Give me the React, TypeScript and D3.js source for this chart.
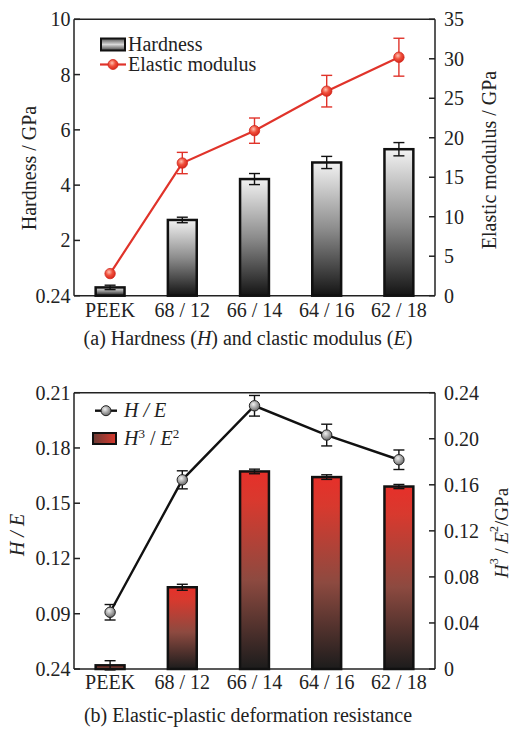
import React from "react";
import * as d3 from "d3";

const categories = ["PEEK", "68 / 12", "66 / 14", "64 / 16", "62 / 18"];
const hardness = [0.3, 2.74, 4.22, 4.82, 5.3];
const hardnessErr = [0.08, 0.1, 0.2, 0.22, 0.24];
const modulus = [2.8, 16.8, 20.9, 25.9, 30.2];
const modulusErr = [0, 1.35, 1.6, 2.0, 2.4];
const hOverE = [0.0908, 0.1627, 0.2029, 0.187, 0.1736];
const hOverEErr = [0.0042, 0.0049, 0.0056, 0.0059, 0.0053];
const h3e2 = [0.0032, 0.071, 0.1716, 0.1667, 0.1585];
const h3e2Err = [0.004, 0.0026, 0.002, 0.002, 0.0018];

const topLeftTicks = [0, 2, 4, 6, 8, 10];
const topLeftLabels = ["0.24", "2", "4", "6", "8", "10"];
const topRightTicks = [0, 5, 10, 15, 20, 25, 30, 35];
const botLeftTicks = [0.06, 0.09, 0.12, 0.15, 0.18, 0.21];
const botLeftLabels = ["0.24", "0.09", "0.12", "0.15", "0.18", "0.21"];
const botRightTicks = [0, 0.04, 0.08, 0.12, 0.16, 0.2, 0.24];
const botRightLabels = ["0", "0.04", "0.08", "0.12", "0.16", "0.20", "0.24"];

const FONT = "'Liberation Serif', 'Times New Roman', serif";
const FS = 20;
const L = 74, R = 435;

function Panel({ y0, y1, leftScale, rightScale, leftTicks, leftLabels, rightTicks, rightLabels, children }: any) {
  const tick = 6;
  return (
    <g>
      <line x1={L} x2={R} y1={y0} y2={y0} stroke="#222" strokeWidth={1.5} />
      <line x1={L} x2={R} y1={y1} y2={y1} stroke="#222" strokeWidth={1.5} />
      <line x1={L} x2={L} y1={y0} y2={y1} stroke="#222" strokeWidth={1.5} />
      <line x1={R} x2={R} y1={y0} y2={y1} stroke="#222" strokeWidth={1.5} />
      {leftTicks.map((t: number, i: number) => (
        <g key={"l" + i}>
          <line x1={L} x2={L + tick} y1={leftScale(t)} y2={leftScale(t)} stroke="#222" strokeWidth={1.5} />
          <text x={70.5} y={leftScale(t)} dy="0.35em" textAnchor="end" fontSize={FS} fontFamily={FONT} fill="#222">{leftLabels[i]}</text>
        </g>
      ))}
      {rightTicks.map((t: number, i: number) => (
        <g key={"r" + i}>
          <line x1={R} x2={R - tick} y1={rightScale(t)} y2={rightScale(t)} stroke="#222" strokeWidth={1.5} />
          <text x={444} y={rightScale(t)} dy="0.35em" textAnchor="start" fontSize={FS} fontFamily={FONT} fill="#222">{rightLabels[i]}</text>
        </g>
      ))}
      {children}
    </g>
  );
}

export default function App() {
  const x = d3.scaleBand().domain(categories).range([L, R]).paddingInner(0.6).paddingOuter(0.3);
  const bw = x.bandwidth();
  const cx = (c: string) => (x(c) as number) + bw / 2;

  const tY0 = 19.3, tY1 = 295.7;
  const yH = d3.scaleLinear().domain([0, 10]).range([tY1, tY0]);
  const yE = d3.scaleLinear().domain([0, 35]).range([tY1, tY0]);
  const bY0 = 392.7, bY1 = 669;
  const yHE = d3.scaleLinear().domain([0.06, 0.21]).range([bY1, bY0]);
  const yH3 = d3.scaleLinear().domain([0, 0.24]).range([bY1, bY0]);

  const line = d3.line<[number, number]>().x((d) => d[0]).y((d) => d[1]);
  const modPts: [number, number][] = categories.map((c, i) => [cx(c), yE(modulus[i])]);
  const hePts: [number, number][] = categories.map((c, i) => [cx(c), yHE(hOverE[i])]);

  const cap = 5.5;
  const errBar = (xc: number, yTop: number, yBot: number, color: string, key: string, w = 1.4) => (
    <g key={key} stroke={color} strokeWidth={w} fill="none">
      <line x1={xc} x2={xc} y1={yTop} y2={yBot} />
      <line x1={xc - cap} x2={xc + cap} y1={yTop} y2={yTop} />
      <line x1={xc - cap} x2={xc + cap} y1={yBot} y2={yBot} />
    </g>
  );

  return (
    <div style={{ position: "absolute", left: 0, top: 0, width: 514, height: 729, background: "#fff" }}>
      <svg width={514} height={729} style={{ display: "block" }} fontFamily={FONT}>
        <defs>
          <linearGradient id="grayGrad" x1="0" y1="0" x2="0" y2="1">
            <stop offset="0" stopColor="#f2f2f2" />
            <stop offset="0.5" stopColor="#8c8c8c" />
            <stop offset="1" stopColor="#141414" />
          </linearGradient>
          <linearGradient id="grayLeg" x1="0" y1="0" x2="0" y2="1">
            <stop offset="0" stopColor="#555" />
            <stop offset="0.5" stopColor="#d8d8d8" />
            <stop offset="1" stopColor="#444" />
          </linearGradient>
          <linearGradient id="redGrad" x1="0" y1="0" x2="0" y2="1">
            <stop offset="0" stopColor="#e6302a" />
            <stop offset="0.15" stopColor="#d8392e" />
            <stop offset="0.55" stopColor="#8d4a40" />
            <stop offset="1" stopColor="#1c1c1c" />
          </linearGradient>
          <linearGradient id="redLeg" x1="0" y1="0" x2="1" y2="0">
            <stop offset="0" stopColor="#6a3a34" />
            <stop offset="1" stopColor="#d8392e" />
          </linearGradient>
          <radialGradient id="redDot" cx="0.4" cy="0.35" r="0.65">
            <stop offset="0" stopColor="#ffc0b0" />
            <stop offset="0.5" stopColor="#f0503c" />
            <stop offset="1" stopColor="#d8281c" />
          </radialGradient>
          <radialGradient id="grayDot" cx="0.4" cy="0.35" r="0.65">
            <stop offset="0" stopColor="#f0f0f0" />
            <stop offset="0.6" stopColor="#a0a0a0" />
            <stop offset="1" stopColor="#6a6a6a" />
          </radialGradient>
        </defs>

        <Panel y0={tY0} y1={tY1} leftScale={yH} rightScale={yE} leftTicks={topLeftTicks} leftLabels={topLeftLabels}
          rightTicks={topRightTicks} rightLabels={topRightTicks.map(String)}>
          {categories.map((c, i) => (
            <rect key={"hb" + i} x={x(c)} y={yH(hardness[i])} width={bw} height={tY1 - yH(hardness[i])}
              fill="url(#grayGrad)" stroke="#111" strokeWidth={2.5} />
          ))}
          {categories.map((c, i) => errBar(cx(c), yH(hardness[i] + hardnessErr[i]), yH(hardness[i] - hardnessErr[i]), "#111", "he" + i))}
          <path d={line(modPts) as string} fill="none" stroke="#e0332a" strokeWidth={2.2} />
          {categories.map((c, i) => modulusErr[i] > 0 ? errBar(cx(c), yE(modulus[i] + modulusErr[i]), yE(modulus[i] - modulusErr[i]), "#e0332a", "me" + i) : null)}
          {modPts.map((p, i) => (
            <circle key={"md" + i} cx={p[0]} cy={p[1]} r={5.2} fill="url(#redDot)" stroke="#d0261c" strokeWidth={0.8} />
          ))}
        </Panel>
        {categories.map((c, i) => (
          <text key={"tc" + i} x={cx(c)} y={tY1 + 21} textAnchor="middle" fontSize={FS} fill="#222">{c}</text>
        ))}
        <rect x={101} y={38.5} width={24} height={12} fill="url(#grayLeg)" stroke="#111" strokeWidth={2} />
        <text x={128} y={50.5} fontSize={FS} fill="#222">Hardness</text>
        <line x1={100} x2={126} y1={64.5} y2={64.5} stroke="#e0332a" strokeWidth={2.2} />
        <circle cx={113} cy={64.5} r={5} fill="url(#redDot)" stroke="#d0261c" strokeWidth={0.8} />
        <text x={128} y={71} fontSize={FS} fill="#222">Elastic modulus</text>
        <text transform="translate(28.5,168) rotate(-90)" textAnchor="middle" dominantBaseline="central" fontSize={FS} fill="#222">Hardness / GPa</text>
        <text transform="translate(489,160) rotate(-90)" textAnchor="middle" dominantBaseline="central" fontSize={FS} fill="#222">Elastic modulus / GPa</text>
        <text x={248} y={345} textAnchor="middle" fontSize={FS} fill="#222">
          (a) Hardness (<tspan fontStyle="italic">H</tspan>) and clastic modulus (<tspan fontStyle="italic">E</tspan>)
        </text>

        <Panel y0={bY0} y1={bY1} leftScale={yHE} rightScale={yH3} leftTicks={botLeftTicks} leftLabels={botLeftLabels}
          rightTicks={botRightTicks} rightLabels={botRightLabels}>
          {categories.map((c, i) => (
            <rect key={"rb" + i} x={x(c)} y={yH3(h3e2[i])} width={bw} height={bY1 - yH3(h3e2[i])}
              fill="url(#redGrad)" stroke="#111" strokeWidth={2.5} />
          ))}
          {categories.map((c, i) => errBar(cx(c), yH3(h3e2[i] + h3e2Err[i]), yH3(h3e2[i] - h3e2Err[i]), "#111", "re" + i))}
          <path d={line(hePts) as string} fill="none" stroke="#111" strokeWidth={2.4} />
          {categories.map((c, i) => errBar(cx(c), yHE(hOverE[i] + hOverEErr[i]), yHE(hOverE[i] - hOverEErr[i]), "#111", "hee" + i))}
          {hePts.map((p, i) => (
            <circle key={"hd" + i} cx={p[0]} cy={p[1]} r={5.2} fill="url(#grayDot)" stroke="#222" strokeWidth={1} />
          ))}
        </Panel>
        {categories.map((c, i) => (
          <text key={"bc" + i} x={cx(c)} y={bY1 + 20} textAnchor="middle" fontSize={FS} fill="#222">{c}</text>
        ))}
        <line x1={95} x2={117} y1={410.7} y2={410.7} stroke="#111" strokeWidth={2.4} />
        <circle cx={106} cy={410.7} r={5} fill="url(#grayDot)" stroke="#222" strokeWidth={1} />
        <text x={124} y={417} fontSize={FS} fill="#222" fontStyle="italic">H / E</text>
        <rect x={93} y={433} width={23} height={11} fill="url(#redLeg)" stroke="#111" strokeWidth={2} />
        <text x={124} y={445} fontSize={FS} fill="#222">
          <tspan fontStyle="italic">H</tspan><tspan dy={-7} fontSize={13}>3</tspan><tspan dy={7}> / </tspan><tspan fontStyle="italic">E</tspan><tspan dy={-7} fontSize={13}>2</tspan>
        </text>
        <text transform="translate(17,535) rotate(-90)" textAnchor="middle" dominantBaseline="central" fontSize={FS} fill="#222" fontStyle="italic">H / E</text>
        <text transform="translate(501,533) rotate(-90)" textAnchor="middle" dominantBaseline="central" fontSize={19} fill="#222">
          <tspan fontStyle="italic">H</tspan><tspan dy={-7} fontSize={12}>3</tspan><tspan dy={7}> / </tspan><tspan fontStyle="italic">E</tspan><tspan dy={-7} fontSize={12}>2</tspan><tspan dy={7}>/GPa</tspan>
        </text>
        <text x={248} y={722} textAnchor="middle" fontSize={FS} fill="#222">(b) Elastic-plastic deformation resistance</text>
      </svg>
    </div>
  );
}
